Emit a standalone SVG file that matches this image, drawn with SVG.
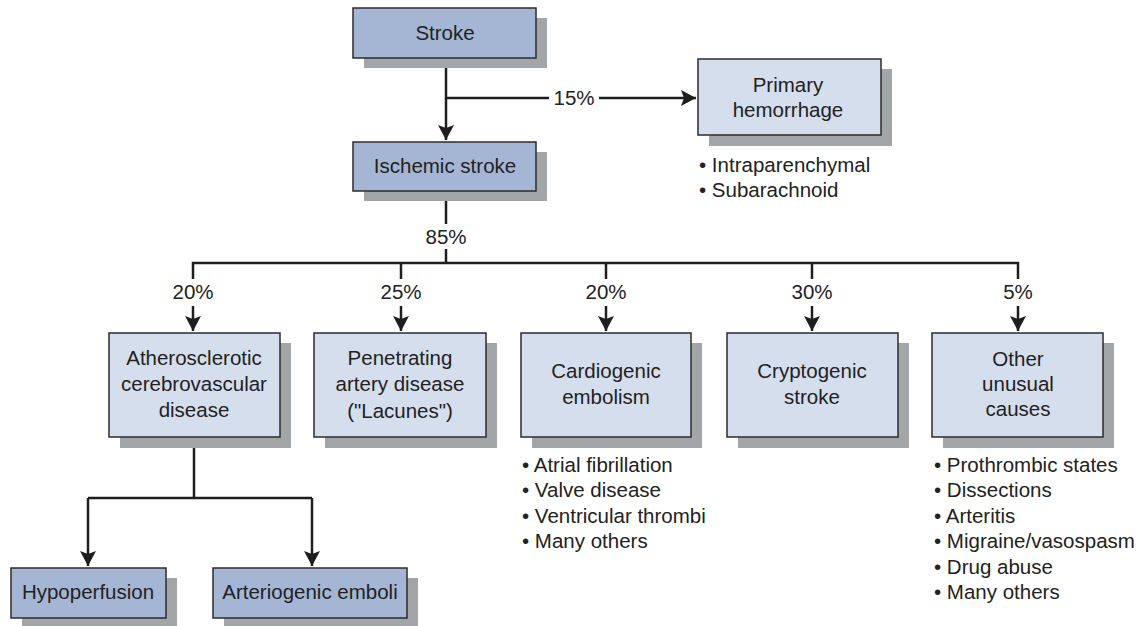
<svg xmlns="http://www.w3.org/2000/svg" width="1136" height="626" viewBox="0 0 1136 626">
<style>
.sh{fill:#a3a6a9}
.dk{fill:#a5b6d5;stroke:#2b2b2b;stroke-width:1.5}
.lt{fill:#d5deec;stroke:#2b2b2b;stroke-width:1.5}
text{font-family:"Liberation Sans",Arial,sans-serif;font-size:20.5px;fill:#222}
.c{text-anchor:middle}
.ln{fill:none;stroke:#1e1e1e;stroke-width:2.5}
</style>
<defs>
<marker id="ah" markerUnits="userSpaceOnUse" markerWidth="18" markerHeight="18" viewBox="0 0 18 18" refX="15" refY="9" orient="auto">
<path d="M0,1 L15,9 L0,17 L3,9 Z" fill="#1e1e1e"/>
</marker>
</defs>
<g id="connectors">
<path class="ln" d="M446,58 V140" marker-end="url(#ah)"/>
<path class="ln" d="M446,98 H549"/>
<path class="ln" d="M599,98 H696" marker-end="url(#ah)"/>
<text class="c" x="574" y="105">15%</text>
<path class="ln" d="M446,191 V224"/>
<path class="ln" d="M446,249 V263"/>
<text class="c" x="446" y="244">85%</text>
<path class="ln" d="M193,279 V263 H1018 V279"/>
<path class="ln" d="M401,263 V279"/>
<path class="ln" d="M606,263 V279"/>
<path class="ln" d="M812,263 V279"/>
<text class="c" x="193" y="299">20%</text>
<text class="c" x="401" y="299">25%</text>
<text class="c" x="606" y="299">20%</text>
<text class="c" x="812" y="299">30%</text>
<text class="c" x="1018" y="299">5%</text>
<path class="ln" d="M193,306 V331" marker-end="url(#ah)"/>
<path class="ln" d="M401,306 V331" marker-end="url(#ah)"/>
<path class="ln" d="M606,306 V331" marker-end="url(#ah)"/>
<path class="ln" d="M812,306 V331" marker-end="url(#ah)"/>
<path class="ln" d="M1018,306 V331" marker-end="url(#ah)"/>
<path class="ln" d="M194,437 V498"/>
<path class="ln" d="M88,498 H312"/>
<path class="ln" d="M88,498 V566" marker-end="url(#ah)"/>
<path class="ln" d="M312,498 V566" marker-end="url(#ah)"/>
</g>
<g id="stroke">
<rect class="sh" x="364" y="18" width="183" height="50"/>
<rect class="dk" x="353" y="8" width="183" height="50"/>
<text class="c" x="445" y="40">Stroke</text>
</g>
<g id="ischemic">
<rect class="sh" x="364" y="152" width="183" height="49"/>
<rect class="dk" x="353" y="142" width="183" height="49"/>
<text class="c" x="445" y="173">Ischemic stroke</text>
</g>
<g id="hemorrhage">
<rect class="sh" x="709" y="69" width="183" height="77"/>
<rect class="lt" x="698" y="59" width="183" height="76"/>
<text class="c" x="788" y="92">Primary</text>
<text class="c" x="788" y="117">hemorrhage</text>
<text x="699" y="172">• Intraparenchymal</text>
<text x="699" y="197">• Subarachnoid</text>
</g>
<g id="athero">
<rect class="sh" x="120" y="343" width="171" height="105"/>
<rect class="lt" x="109" y="333" width="171" height="104"/>
<text class="c" x="194" y="365">Atherosclerotic</text>
<text class="c" x="194" y="391">cerebrovascular</text>
<text class="c" x="194" y="417">disease</text>
</g>
<g id="penetrating">
<rect class="sh" x="325" y="343" width="172" height="105"/>
<rect class="lt" x="314" y="333" width="172" height="104"/>
<text class="c" x="400" y="365">Penetrating</text>
<text class="c" x="400" y="391">artery disease</text>
<text class="c" x="400" y="418">("Lacunes")</text>
</g>
<g id="cardiogenic">
<rect class="sh" x="532" y="343" width="170" height="105"/>
<rect class="lt" x="521" y="333" width="170" height="104"/>
<text class="c" x="606" y="378">Cardiogenic</text>
<text class="c" x="606" y="404">embolism</text>
<text x="522" y="472">• Atrial fibrillation</text>
<text x="522" y="497">• Valve disease</text>
<text x="522" y="523">• Ventricular thrombi</text>
<text x="522" y="548">• Many others</text>
</g>
<g id="cryptogenic">
<rect class="sh" x="738" y="343" width="171" height="105"/>
<rect class="lt" x="727" y="333" width="171" height="104"/>
<text class="c" x="812" y="378">Cryptogenic</text>
<text class="c" x="812" y="404">stroke</text>
</g>
<g id="other">
<rect class="sh" x="943" y="343" width="171" height="105"/>
<rect class="lt" x="932" y="333" width="171" height="104"/>
<text class="c" x="1018" y="366">Other</text>
<text class="c" x="1018" y="391">unusual</text>
<text class="c" x="1018" y="416">causes</text>
<text x="934" y="472">• Prothrombic states</text>
<text x="934" y="497">• Dissections</text>
<text x="934" y="523">• Arteritis</text>
<text x="934" y="548">• Migraine/vasospasm</text>
<text x="934" y="574">• Drug abuse</text>
<text x="934" y="599">• Many others</text>
</g>
<g id="hypoperfusion">
<rect class="sh" x="22" y="578" width="155" height="50"/>
<rect class="dk" x="11" y="568" width="155" height="50"/>
<text class="c" x="88" y="599">Hypoperfusion</text>
</g>
<g id="arteriogenic">
<rect class="sh" x="224" y="578" width="194" height="50"/>
<rect class="dk" x="213" y="568" width="194" height="50"/>
<text class="c" x="310" y="599">Arteriogenic emboli</text>
</g>
</svg>
